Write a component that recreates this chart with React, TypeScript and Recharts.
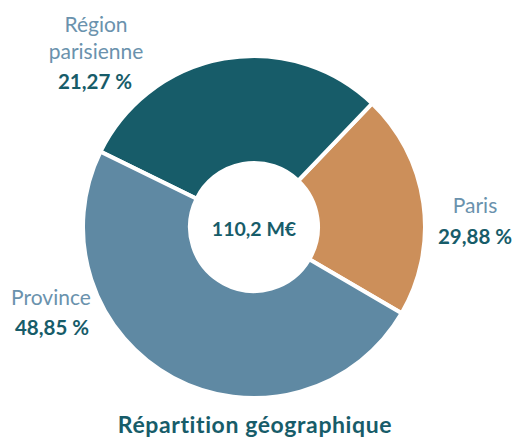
import { Cell, Pie, PieChart } from "recharts";

// slices as drawn, counter-clockwise from the lower right
const sliceNames = ["Paris", "Région parisienne", "Province"];
const sliceValues = [21.27, 29.88, 48.85];
const sliceColors = ["#cc8f5a", "#175c69", "#5f89a3"];

// label text exactly as printed on the chart
const labelPercents = ["29,88 %", "21,27 %", "48,85 %"];
const totalLabel = "110,2 M€";
const title = "Répartition géographique";

const data = sliceNames.map((name, i) => ({ name, value: sliceValues[i] }));

const FONT = "Lato, 'Open Sans', sans-serif";
const nameColor = "#6a92ad";
const darkColor = "#175c69";
const nameSize = 21;
const pctSize = 20.5;

export default function App() {
  return (
    <div style={{ position: "absolute", left: 0, top: 0, width: 514, height: 438, background: "#fff" }}>
      <PieChart width={514} height={438} margin={{ top: 0, right: 0, bottom: 0, left: 0 }}>
        <Pie
          data={data}
          dataKey="value"
          nameKey="name"
          cx={254}
          cy={227}
          innerRadius={64}
          outerRadius={171}
          startAngle={-30.3}
          endAngle={329.7}
          stroke="#fff"
          strokeWidth={4}
          isAnimationActive={false}
        >
          {data.map((_, i) => (
            <Cell key={i} fill={sliceColors[i]} />
          ))}
        </Pie>
      </PieChart>
      <svg width={514} height={438} style={{ position: "absolute", left: 0, top: 0, pointerEvents: "none" }}>
        <g fontFamily={FONT} textAnchor="middle">
          <text x={96} y={32} fontSize={nameSize} fill={nameColor}>Région</text>
          <text x={96} y={59} fontSize={nameSize} fill={nameColor}>parisienne</text>
          <text x={95} y={89} fontSize={pctSize} fontWeight={700} fill={darkColor}>{labelPercents[1]}</text>

          <text x={475} y={213} fontSize={nameSize} fill={nameColor}>{sliceNames[0]}</text>
          <text x={475} y={244} fontSize={pctSize} fontWeight={700} fill={darkColor}>{labelPercents[0]}</text>

          <text x={51} y={305} fontSize={nameSize} fill={nameColor}>{sliceNames[2]}</text>
          <text x={52} y={335} fontSize={pctSize} fontWeight={700} fill={darkColor}>{labelPercents[2]}</text>

          <text x={254} y={236} fontSize={19.5} fontWeight={700} fill={darkColor}>{totalLabel}</text>

          <text x={255} y={433} fontSize={23} fontWeight={700} letterSpacing={0.6} fill={darkColor}>{title}</text>
        </g>
      </svg>
    </div>
  );
}
